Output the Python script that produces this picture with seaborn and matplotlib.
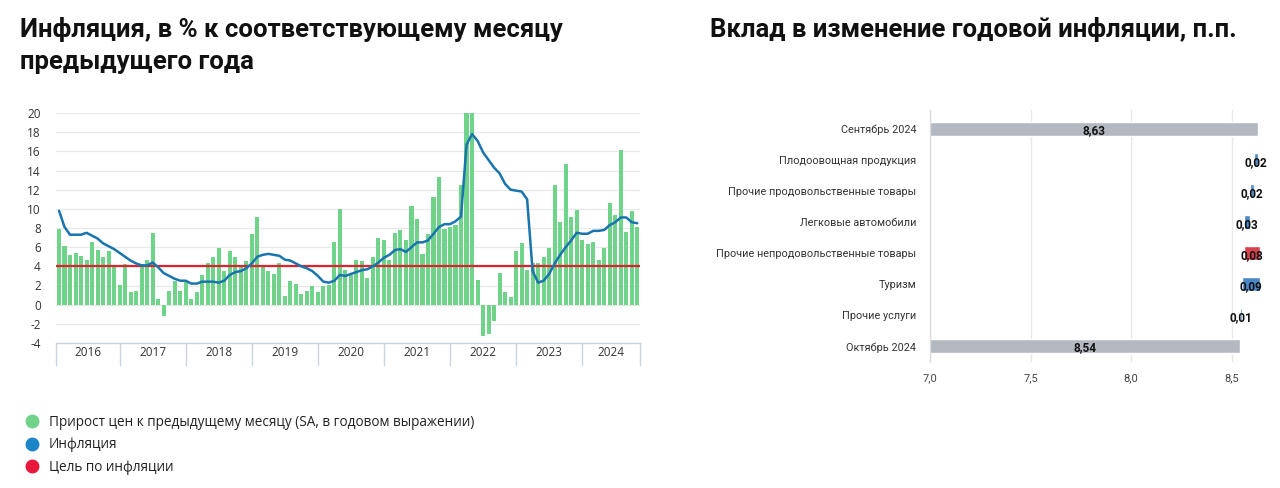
import numpy as np
import pandas as pd
import matplotlib
matplotlib.use("Agg")
import matplotlib.pyplot as plt
import matplotlib.transforms as mtransforms
from matplotlib.lines import Line2D
import seaborn as sns

# ---------------- data ----------------
years = [2016, 2017, 2018, 2019, 2020, 2021, 2022, 2023, 2024]

# Price growth to previous month (SA, annualised), Jan 2016 - Oct 2024
mom_saar = [
    7.9, 6.1, 5.2, 5.4, 5.1, 4.7, 6.5, 5.7, 5.0, 5.6, 4.0, 2.1,      # 2016
    4.2, 1.3, 1.4, 4.2, 4.7, 7.5, 0.6, -1.2, 1.4, 2.5, 1.4, 2.4,     # 2017
    0.6, 1.3, 3.1, 4.3, 5.0, 5.9, 3.5, 5.6, 5.0, 3.9, 4.6, 7.4,      # 2018
    9.2, 4.0, 3.5, 3.2, 4.4, 0.9, 2.5, 2.2, 1.1, 1.4, 2.0, 1.3,      # 2019
    1.9, 2.1, 6.5, 10.0, 3.6, 3.1, 4.7, 4.6, 2.8, 5.0, 7.0, 6.8,     # 2020
    4.7, 7.5, 7.8, 6.8, 10.3, 8.9, 5.3, 7.4, 11.2, 13.3, 7.9, 8.1,   # 2021
    8.3, 12.5, 20.0, 20.0, 2.6, -3.3, -3.1, -1.7, 3.3, 1.3, 0.8, 5.6,  # 2022
    6.4, 3.6, 4.3, 4.3, 5.0, 5.9, 12.5, 8.6, 14.7, 9.1, 9.9, 6.7,    # 2023
    6.3, 6.5, 4.7, 5.9, 10.6, 9.4, 16.1, 7.6, 9.8, 8.1,              # 2024
]

# Inflation, % y/y
cpi_yoy = [
    9.8, 8.1, 7.3, 7.3, 7.3, 7.5, 7.2, 6.9, 6.4, 6.1, 5.8, 5.4,
    5.0, 4.6, 4.3, 4.1, 4.1, 4.4, 3.9, 3.3, 3.0, 2.7, 2.5, 2.5,
    2.2, 2.2, 2.4, 2.4, 2.4, 2.3, 2.5, 3.1, 3.4, 3.5, 3.8, 4.3,
    5.0, 5.2, 5.3, 5.2, 5.1, 4.7, 4.6, 4.3, 4.0, 3.8, 3.5, 3.0,
    2.4, 2.3, 2.5, 3.1, 3.0, 3.2, 3.4, 3.6, 3.7, 4.0, 4.4, 4.9,
    5.2, 5.7, 5.8, 5.5, 6.0, 6.5, 6.5, 6.7, 7.4, 8.1, 8.4, 8.4,
    8.7, 9.2, 16.7, 17.8, 17.1, 15.9, 15.1, 14.3, 13.7, 12.6, 12.0, 11.9,
    11.8, 11.0, 3.5, 2.3, 2.5, 3.2, 4.3, 5.2, 6.0, 6.7, 7.5, 7.4,
    7.4, 7.7, 7.7, 7.8, 8.3, 8.6, 9.1, 9.1, 8.6, 8.5,
]

inflation_target = 4.0
y_ticks_left = [-4, -2, 0, 2, 4, 6, 8, 10, 12, 14, 16, 18, 20]

legend_labels = [
    "Прирост цен к предыдущему месяцу (SA, в годовом выражении)",
    "Инфляция",
    "Цель по инфляции",
]

wf_categories = [
    "Сентябрь 2024",
    "Плодоовощная продукция",
    "Прочие продовольственные товары",
    "Легковые автомобили",
    "Прочие непродовольственные товары",
    "Туризм",
    "Прочие услуги",
    "Октябрь 2024",
]
wf_values = [8.63, -0.02, -0.02, -0.03, 0.08, -0.09, -0.01, 8.54]
wf_is_total = [True, False, False, False, False, False, False, True]
wf_xticks = [7.0, 7.5, 8.0, 8.5]

# ---------------- style ----------------
GREEN = "#6fd38a"
BLUE_LINE = "#1a74ad"
RED_LINE = "#e0222f"
LEG_GREEN = "#6fd38a"
LEG_BLUE = "#1a86c8"
LEG_RED = "#e8173c"
GRAY_BAR = "#b4b9c1"
WF_BLUE = "#4a88c8"
WF_RED = "#d8434e"
GRID = "#e8e8e8"

sns.set_theme(style="white")
plt.rcParams["font.family"] = ["Open Sans", "DejaVu Sans"]

W, H = 1280, 488
fig = plt.figure(figsize=(W / 100, H / 100), dpi=100)


def rect(x0, y0, x1, y1):
    return [x0 / W, 1 - y1 / H, (x1 - x0) / W, (y1 - y0) / H]


# ---------------- left chart ----------------
ax1 = fig.add_axes(rect(56, 113, 640, 343))
n = len(mom_saar)
df = pd.DataFrame({"i": np.arange(n), "mom": mom_saar, "yoy": cpi_yoy})

sns.barplot(data=df, x="i", y="mom", native_scale=True, color=GREEN,
            saturation=1, width=0.74, errorbar=None, ax=ax1, zorder=2,
            linewidth=0, edgecolor="none")
ax1.axhline(inflation_target, color=RED_LINE, lw=1.6, zorder=3)
sns.lineplot(data=df, x="i", y="yoy", color=BLUE_LINE, lw=1.8, ax=ax1, zorder=4)

ax1.set_xlim(-0.55, n - 0.5)
ax1.set_ylim(-4, 20)
ax1.set_yticks(y_ticks_left)
ax1.set_yticklabels([str(t) for t in y_ticks_left])
ax1.set_xticks([])
ax1.set_xlabel("")
ax1.set_ylabel("")
ax1.yaxis.grid(True, color=GRID, lw=0.9)
ax1.set_axisbelow(True)
for s in ["left", "right", "top"]:
    ax1.spines[s].set_visible(False)
ax1.spines["bottom"].set_color("#ccd3e0")
ax1.spines["bottom"].set_linewidth(1.0)
ax1.tick_params(axis="y", length=0, pad=11, labelsize=8.5, labelcolor="#333333")

# year band below the axis
trans = mtransforms.blended_transform_factory(ax1.transData, ax1.transAxes)
band = 22 / 230
seps = [-0.55] + [12 * k - 1 for k in range(1, len(years))] + [n - 0.5]
for s in seps:
    ax1.plot([s, s], [0, -band], transform=trans, color="#ccd3e0", lw=1.0,
             clip_on=False)
for k, yr in enumerate(years):
    c = (seps[k] + seps[k + 1]) / 2
    ax1.text(c, -10 / 230, str(yr), transform=trans, ha="center", va="center",
             fontsize=8.5, color="#333333")

# titles
fig.text(20 / W, 1 - 30 / H, "Инфляция, в % к соответствующему месяцу",
         fontsize=18.5, weight="bold", family="Roboto", va="center", ha="left",
         color="#111111")
fig.text(20 / W, 1 - 62 / H, "предыдущего года",
         fontsize=18.5, weight="bold", family="Roboto", va="center", ha="left",
         color="#111111")
fig.text(710 / W, 1 - 30 / H, "Вклад в изменение годовой инфляции, п.п.",
         fontsize=18.5, weight="bold", family="Roboto", va="center", ha="left",
         color="#111111")

# legend
handles = [Line2D([], [], marker="o", ls="", markersize=9,
                  markerfacecolor=c, markeredgecolor=c)
           for c in (LEG_GREEN, LEG_BLUE, LEG_RED)]
fig.legend(handles, legend_labels, loc="upper left",
           bbox_to_anchor=(25 / W, 1 - 415 / H), frameon=False, fontsize=9.8,
           handletextpad=0.75, labelspacing=0.55, borderaxespad=0, borderpad=0,
           handlelength=1.0, labelcolor="#222222")

# ---------------- right chart (waterfall) ----------------
ax2 = fig.add_axes(rect(930, 110, 1264, 362))
xmin, xmax = 7.0, 8.66
lefts, widths, colors = [], [], []
level = 0.0
for v, tot in zip(wf_values, wf_is_total):
    if tot:
        lefts.append(0.0)
        widths.append(v)
        colors.append(GRAY_BAR)
        level = v
    else:
        lefts.append(level)
        widths.append(v)
        colors.append(WF_RED if v > 0 else WF_BLUE)
        level = level + v

ypos = np.arange(len(wf_categories))
ax2.barh(ypos, widths, left=lefts, height=0.45, color=colors, zorder=2)

for y, l, w, tot in zip(ypos, lefts, widths, wf_is_total):
    lab = f"{abs(w):.2f}".replace(".", ",")
    if tot:
        xc = (xmin + l + w) / 2
        ax2.text(xc, y + 0.05, lab, ha="center", va="center", fontsize=8.5,
                 weight="bold", color="#111111", family="Roboto", zorder=5)
    else:
        xc = l + w / 2
        ax2.text(xc, y + 0.08, lab, ha="center", va="center", fontsize=8.5,
                 weight="bold", color="#111111", family="Roboto", zorder=5)

ax2.set_xlim(xmin, xmax)
ax2.set_ylim(len(wf_categories) - 0.5, -0.6)
ax2.set_yticks(ypos)
ax2.set_yticklabels(wf_categories)
ax2.set_xticks(wf_xticks)
ax2.set_xticklabels([f"{t:.1f}".replace(".", ",") for t in wf_xticks])
ax2.xaxis.grid(True, color=GRID, lw=1.0)
ax2.set_axisbelow(True)
for s in ["right", "top", "bottom"]:
    ax2.spines[s].set_visible(False)
ax2.spines["left"].set_color("#dcdcdc")
ax2.spines["left"].set_linewidth(1.0)
ax2.tick_params(axis="y", length=0, pad=10, labelsize=7.8, labelcolor="#333333")
ax2.tick_params(axis="x", length=0, pad=8, labelsize=8, labelcolor="#444444")
for t in ax2.get_yticklabels() + ax2.get_xticklabels():
    t.set_family("Roboto")

fig.savefig("out.png", dpi=100)
